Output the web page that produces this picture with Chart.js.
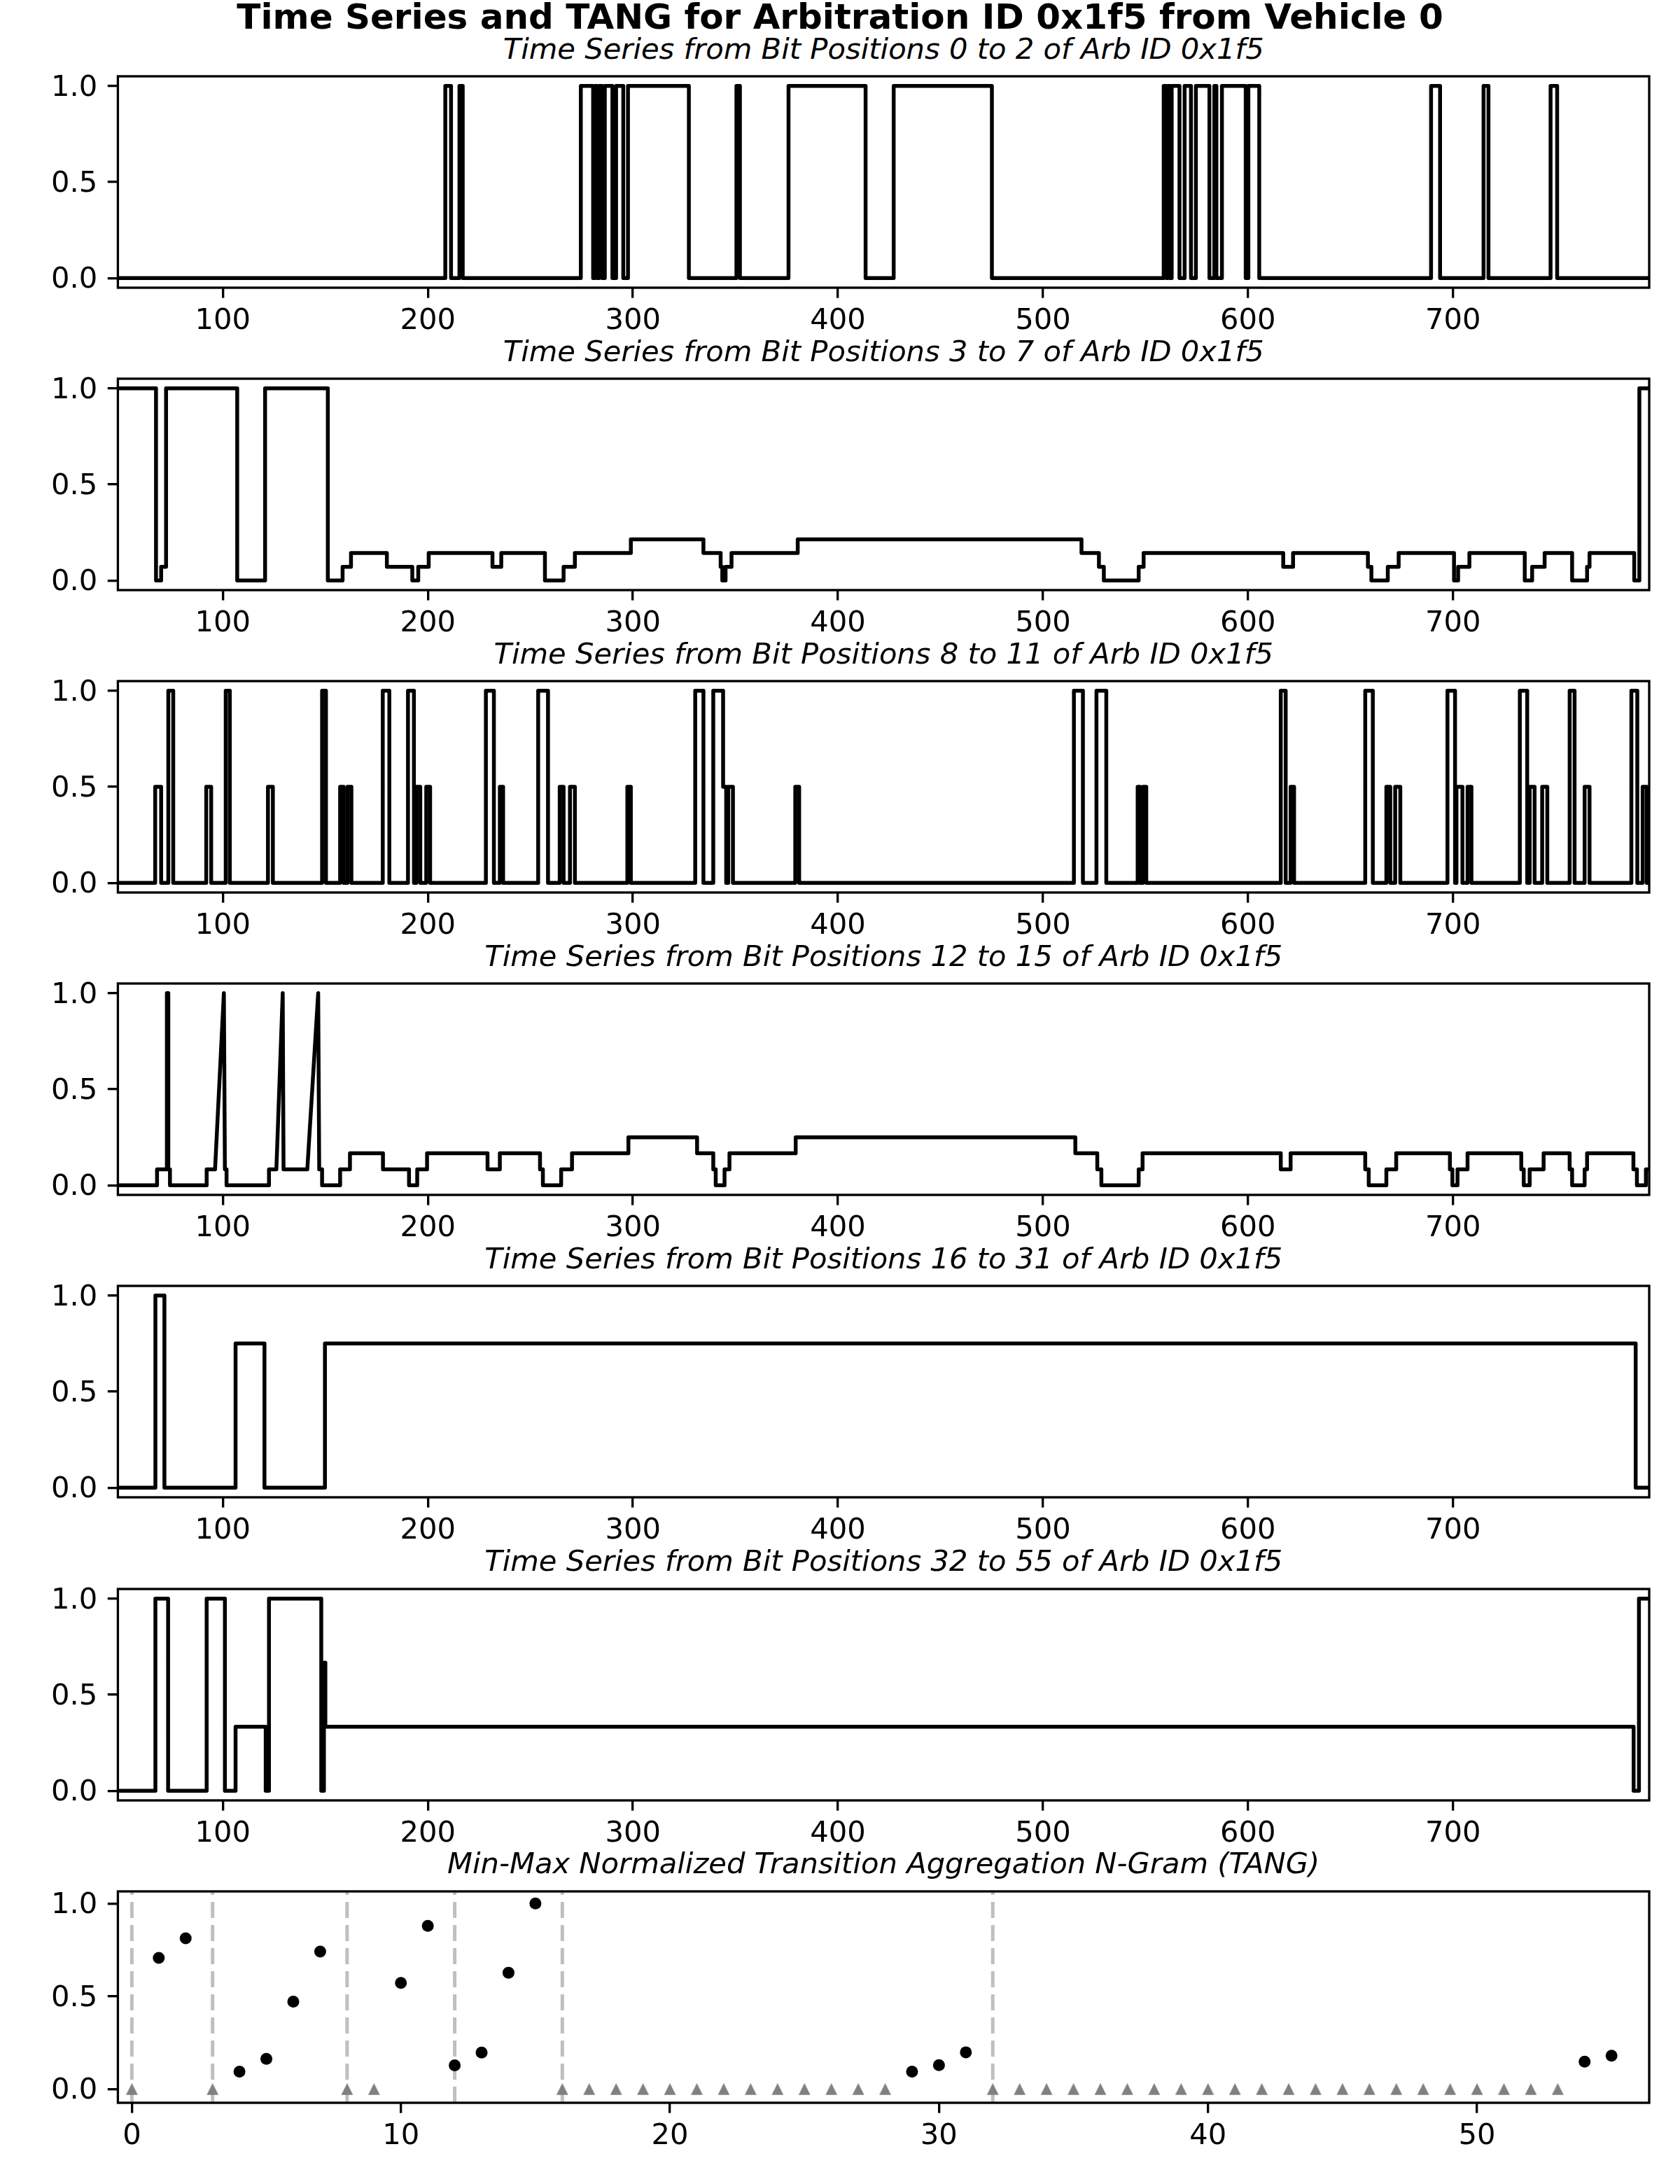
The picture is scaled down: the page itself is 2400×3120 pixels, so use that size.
<!DOCTYPE html>
<html>
<head>
<meta charset="utf-8">
<title>Time Series and TANG for Arbitration ID 0x1f5 from Vehicle 0</title>
<script src="https://cdn.jsdelivr.net/npm/chart.js@4.4.1/dist/chart.umd.min.js"></script>
<style>
  html, body { margin:0; padding:0; background:#ffffff; }
  body { position:relative; width:2400px; height:3120px; overflow:hidden; font-family:'DejaVu Sans', sans-serif; color:#000; }
  .suptitle { position:absolute; left:0; top:-1px; width:2400px; text-align:center; font-weight:bold; font-size:50px; line-height:50px; white-space:nowrap; }
  .axtitle { position:absolute; text-align:center; font-style:italic; font-size:41.67px; line-height:41.67px; white-space:nowrap; }
  .panel { position:absolute; left:0; width:2400px; }
  .panel canvas { display:block; }
</style>
</head>
<body>
<div class="suptitle">Time Series and TANG for Arbitration ID 0x1f5 from Vehicle 0</div>
<script>
// ---------------- DATA ----------------
const timeMin = 48.8, timeMax = 795.7;

// Bits 0-2 : change points (value holds until next point)
const ts0_2_x = [48.8, 208.5, 211.3, 215.4, 217.0, 274.6, 280.6, 281.6, 282.6, 283.6, 285.0, 286.3, 290.0, 291.8, 295.3, 297.6, 327.3, 350.5, 352.2, 375.9, 413.5, 427.2, 475.1, 558.9, 560.2, 561.0, 562.0, 562.8, 566.6, 569.1, 572.2, 574.6, 581.2, 583.6, 584.6, 587.3, 598.9, 600.2, 605.5, 689.3, 693.7, 714.9, 717.3, 747.6, 750.8, 795.7];
const ts0_2_y = [0, 1, 0, 1, 0, 1, 0, 1, 0, 1, 0, 1, 0, 1, 0, 1, 0, 1, 0, 1, 0, 1, 0, 1, 0, 1, 0, 1, 0, 1, 0, 1, 0, 1, 0, 1, 0, 1, 0, 1, 0, 1, 0, 1, 0, 0];

// Bits 3-7
const ts3_7_x = [48.8, 67.4, 69.9, 72.3, 107.0, 120.6, 151.2, 158.4, 162.5, 180.0, 192.4, 195.3, 200.4, 231.5, 235.8, 257.1, 266.2, 271.7, 299.0, 334.4, 342.8, 343.6, 345.2, 348.1, 380.4, 518.8, 527.3, 529.7, 546.7, 549.1, 617.2, 622.0, 658.5, 660.2, 668.2, 673.5, 700.5, 702.5, 708.0, 735.0, 738.6, 744.7, 758.1, 765.4, 766.6, 788.4, 790.9, 795.7];
const ts3_7_y = [1, 0, 0.0714, 1, 0, 1, 0, 0.0714, 0.1429, 0.0714, 0, 0.0714, 0.1429, 0.0714, 0.1429, 0, 0.0714, 0.1429, 0.2143, 0.1429, 0.0714, 0, 0.0714, 0.1429, 0.2143, 0.1429, 0.0714, 0, 0.0714, 0.1429, 0.0714, 0.1429, 0.0714, 0, 0.0714, 0.1429, 0, 0.0714, 0.1429, 0, 0.0714, 0.1429, 0, 0.0714, 0.1429, 0, 1, 1];

// Bits 8-11
const ts8_11_x = [48.8, 67.0, 69.9, 73.4, 75.8, 91.9, 94.3, 101.4, 103.4, 122.0, 124.4, 148.4, 150.3, 157.2, 158.9, 160.8, 162.7, 178.0, 181.2, 190.3, 193.2, 194.4, 196.3, 199.2, 201.1, 228.3, 232.2, 235.1, 236.7, 253.8, 258.6, 264.3, 266.2, 269.3, 271.7, 297.3, 299.0, 330.4, 334.4, 339.2, 344.0, 345.5, 346.5, 348.8, 379.2, 381.1, 515.1, 519.5, 526.1, 530.9, 546.2, 547.4, 548.8, 550.4, 616.0, 618.4, 620.8, 622.5, 657.2, 660.9, 667.5, 669.4, 671.8, 674.3, 697.3, 701.0, 701.7, 704.6, 707.1, 709.0, 732.6, 736.2, 737.4, 739.8, 743.5, 746.0, 756.9, 759.3, 764.2, 766.6, 787.0, 789.9, 792.5, 794.5, 795.7];
const ts8_11_y = [0, 0.5, 0, 1, 0, 0.5, 0, 1, 0, 0.5, 0, 1, 0, 0.5, 0, 0.5, 0, 1, 0, 1, 0, 0.5, 0, 0.5, 0, 1, 0, 0.5, 0, 1, 0, 0.5, 0, 0.5, 0, 0.5, 0, 1, 0, 1, 0.5, 0, 0.5, 0, 0.5, 0, 1, 0, 1, 0, 0.5, 0, 0.5, 0, 1, 0, 0.5, 0, 1, 0, 0.5, 0, 0.5, 0, 1, 0, 0.5, 0, 0.5, 0, 1, 0, 0.5, 0, 0.5, 0, 1, 0, 0.5, 0, 1, 0, 0.5, 0, 0];

// Bits 12-15 : explicit vertices (linear, contains ramps)
const ts12_15_x = [48.8, 67.9, 67.9, 72.7, 72.7, 73.4, 73.4, 74.2, 74.2,
  92.1, 92.1, 96.2, 100.5, 101.0, 101.8, 101.8,
  122.5, 122.5, 126.1, 129.2, 129.6, 141.2, 146.5, 147.0, 148.4, 148.4,
  157.2, 157.2, 162.0, 162.0, 178.1, 178.1, 190.8, 190.8, 194.8, 194.8, 199.6, 199.6, 229.1, 229.1, 235.1, 235.1, 254.7, 254.7, 256.1, 256.1, 265.0, 265.0, 270.3, 270.3, 297.8, 297.8, 331.3, 331.3, 339.2, 339.2, 340.4, 340.4, 344.7, 344.7, 347.1, 347.1, 379.4, 379.4,
  515.8, 515.8, 526.5, 526.5, 528.5, 528.5, 546.7, 546.7, 548.6, 548.6, 616.0, 616.0, 620.8, 620.8, 657.2, 657.2, 658.9, 658.9, 667.5, 667.5, 672.3, 672.3, 698.5, 698.5, 699.7, 699.7, 702.2, 702.2, 707.1, 707.1, 733.3, 733.3, 734.5, 734.5, 737.4, 737.4, 744.2, 744.2, 756.9, 756.9, 758.1, 758.1, 764.2, 764.2, 765.4, 765.4, 788.0, 788.0, 789.7, 789.7, 794.1, 794.1, 795.7];
const ts12_15_y = [0, 0, 0.0833, 0.0833, 1, 1, 0.0833, 0.0833, 0,
  0, 0.0833, 0.0833, 1, 0.0833, 0.0833, 0,
  0, 0.0833, 0.0833, 1, 0.0833, 0.0833, 1, 0.0833, 0.0833, 0,
  0, 0.0833, 0.0833, 0.1667, 0.1667, 0.0833, 0.0833, 0, 0, 0.0833, 0.0833, 0.1667, 0.1667, 0.0833, 0.0833, 0.1667, 0.1667, 0.0833, 0.0833, 0, 0, 0.0833, 0.0833, 0.1667, 0.1667, 0.25, 0.25, 0.1667, 0.1667, 0.0833, 0.0833, 0, 0, 0.0833, 0.0833, 0.1667, 0.1667, 0.25,
  0.25, 0.1667, 0.1667, 0.0833, 0.0833, 0, 0, 0.0833, 0.0833, 0.1667, 0.1667, 0.0833, 0.0833, 0.1667, 0.1667, 0.0833, 0.0833, 0, 0, 0.0833, 0.0833, 0.1667, 0.1667, 0.0833, 0.0833, 0, 0, 0.0833, 0.0833, 0.1667, 0.1667, 0.0833, 0.0833, 0, 0, 0.0833, 0.0833, 0.1667, 0.1667, 0.0833, 0.0833, 0, 0, 0.0833, 0.0833, 0.1667, 0.1667, 0.0833, 0.0833, 0, 0, 0.0833, 0.0833];

// Bits 16-31
const ts16_31_x = [48.8, 67.1, 71.5, 106.2, 120.3, 149.8, 789.1, 795.7];
const ts16_31_y = [0, 1, 0, 0.75, 0, 0.75, 0, 0];

// Bits 32-55
const ts32_55_x = [48.8, 67.1, 73.3, 92.1, 101.0, 106.2, 120.9, 122.5, 148.0, 149.3, 150.0, 788.1, 790.7, 795.7];
const ts32_55_y = [0, 1, 0, 1, 0, 0.3333, 0, 1, 0, 0.6667, 0.3333, 0, 1, 1];

// TANG
const tangIdx = [1, 2, 4, 5, 6, 7, 10, 11, 12, 13, 14, 15, 29, 30, 31, 54, 55];
const tangVal = [0.707, 0.812, 0.094, 0.163, 0.471, 0.741, 0.572, 0.879, 0.128, 0.197, 0.627, 1.0, 0.094, 0.129, 0.198, 0.148, 0.180];
const tangZeroIdx = [0, 3, 8, 9, 16, 17, 18, 19, 20, 21, 22, 23, 24, 25, 26, 27, 28, 32, 33, 34, 35, 36, 37, 38, 39, 40, 41, 42, 43, 44, 45, 46, 47, 48, 49, 50, 51, 52, 53];
const tangBoundaries = [0, 3, 8, 12, 16, 32];
const tangXMin = -0.52, tangXMax = 56.4, tangYMin = -0.074, tangYMax = 1.065;

// Ticks
const timeTicks = [100, 200, 300, 400, 500, 600, 700];
const timeTickLabels = ['100', '200', '300', '400', '500', '600', '700'];
const tangTicks = [0, 10, 20, 30, 40, 50];
const tangTickLabels = ['0', '10', '20', '30', '40', '50'];
const yTicks = [0, 0.5, 1];
const yTickLabels = ['0.0', '0.5', '1.0'];

const panelTitles = [
  'Time Series from Bit Positions 0 to 2 of Arb ID 0x1f5',
  'Time Series from Bit Positions 3 to 7 of Arb ID 0x1f5',
  'Time Series from Bit Positions 8 to 11 of Arb ID 0x1f5',
  'Time Series from Bit Positions 12 to 15 of Arb ID 0x1f5',
  'Time Series from Bit Positions 16 to 31 of Arb ID 0x1f5',
  'Time Series from Bit Positions 32 to 55 of Arb ID 0x1f5',
  'Min-Max Normalized Transition Aggregation N-Gram (TANG)'
];

// ---------------- LAYOUT ----------------
const FIG_W = 2400, AX_LEFT = 168.4, AX_RIGHT = 2356, AX_TOP0 = 109, AX_PITCH = 432.1, AX_H = 302;
const PAD_T = 50, XAX_H = 90;
const FS = 41.67, LW = 5.5, SPINE = 3.33, TICK_LEN = 14.6;

Chart.defaults.font.family = "'DejaVu Sans', sans-serif";
Chart.defaults.font.size = FS;
Chart.defaults.color = '#000';

const framePlugin = {
  id: 'frame',
  afterDatasetsDraw(chart) {
    const { ctx, chartArea: a } = chart;
    ctx.save();
    ctx.lineWidth = SPINE;
    ctx.strokeStyle = '#000';
    ctx.strokeRect(a.left, a.top, a.right - a.left, a.bottom - a.top);
    ctx.restore();
  }
};

function gridOpts() {
  return { drawOnChartArea: false, drawTicks: true, tickLength: TICK_LEN, lineWidth: SPINE, tickWidth: SPINE, color: '#000', tickColor: '#000' };
}
function xScale(min, max, ticks, labels) {
  return {
    type: 'linear', min, max,
    afterBuildTicks: s => { s.ticks = ticks.map(v => ({ value: v })); },
    afterFit: s => { s.height = XAX_H; },
    grid: gridOpts(),
    border: { display: false },
    ticks: { padding: 9, autoSkip: false, maxRotation: 0, color: '#000', font: { size: FS },
             callback: (v, i) => labels[i] }
  };
}
function yScale(min, max) {
  return {
    type: 'linear', min, max,
    afterBuildTicks: s => { s.ticks = yTicks.map(v => ({ value: v })); },
    afterFit: s => { s.width = AX_LEFT; },
    grid: gridOpts(),
    border: { display: false },
    ticks: { padding: TICK_LEN, autoSkip: false, color: '#000', font: { size: FS }, labelOffset: 3,
             callback: (v, i) => yTickLabels[i] }
  };
}

function makePanel(i, datasets, xs, ys) {
  const axTop = AX_TOP0 + AX_PITCH * i;
  const t = document.createElement('div');
  t.className = 'axtitle';
  t.style.left = AX_LEFT + 'px';
  t.style.width = (AX_RIGHT - AX_LEFT) + 'px';
  t.style.top = (axTop - 25 - 0.846 * FS) + 'px';
  t.textContent = panelTitles[i];
  document.body.appendChild(t);

  const wrap = document.createElement('div');
  wrap.className = 'panel';
  const cv = document.createElement('canvas');
  const H = PAD_T + AX_H + XAX_H;
  cv.width = FIG_W; cv.height = H;
  cv.style.width = FIG_W + 'px'; cv.style.height = H + 'px';
  wrap.appendChild(cv);
  document.body.appendChild(wrap);

  const chart = new Chart(cv, {
    type: 'scatter',
    data: { datasets },
    options: {
      responsive: false, animation: false, devicePixelRatio: 1, events: [],
      layout: { padding: { left: 0, top: PAD_T, right: FIG_W - AX_RIGHT, bottom: 0 } },
      plugins: { legend: { display: false }, tooltip: { enabled: false }, title: { display: false } },
      scales: { x: xs, y: ys }
    },
    plugins: [framePlugin]
  });
  // place canvas so that the plot area lands exactly on the axes box
  let a = chart.chartArea;
  const dh = AX_H - (a.bottom - a.top);
  if (Math.abs(dh) > 0.5) {
    cv.height = H + dh; cv.style.height = (H + dh) + 'px';
    chart.resize(FIG_W, H + dh);
    a = chart.chartArea;
  }
  wrap.style.top = (axTop - a.top) + 'px';
  return chart;
}

function series(xArr, yArr, stepped) {
  return {
    data: xArr.map((x, k) => ({ x, y: yArr[k] })),
    showLine: true, stepped: stepped, tension: 0,
    borderColor: '#000', backgroundColor: '#000', borderWidth: LW,
    borderJoinStyle: 'round', borderCapStyle: 'butt',
    pointRadius: 0, pointHoverRadius: 0, clip: 0, fill: false
  };
}

const tsSets = [
  [ts0_2_x, ts0_2_y, true],
  [ts3_7_x, ts3_7_y, true],
  [ts8_11_x, ts8_11_y, true],
  [ts12_15_x, ts12_15_y, false],
  [ts16_31_x, ts16_31_y, true],
  [ts32_55_x, ts32_55_y, true]
];
tsSets.forEach((s, i) => {
  makePanel(i, [series(s[0], s[1], s[2])],
    xScale(timeMin, timeMax, timeTicks, timeTickLabels),
    yScale(-0.05, 1.05));
});

// TANG panel
const tri = document.createElement('canvas');
tri.width = 18; tri.height = 18;
{
  const c = tri.getContext('2d');
  c.fillStyle = '#808080';
  c.beginPath(); c.moveTo(9, 0.5); c.lineTo(0.5, 17.5); c.lineTo(17.5, 17.5); c.closePath(); c.fill();
}
const tangSets = [
  { data: tangIdx.map((x, k) => ({ x, y: tangVal[k] })), pointStyle: 'circle', pointRadius: 8.5,
    backgroundColor: '#000', borderColor: '#000', borderWidth: 0, showLine: false, clip: 0 },
  { data: tangZeroIdx.map(x => ({ x, y: 0 })), pointStyle: tri, pointRadius: 9,
    backgroundColor: '#808080', borderWidth: 0, showLine: false, clip: 0 }
];
tangBoundaries.forEach(b => {
  tangSets.push({
    data: [{ x: b, y: tangYMin }, { x: b, y: tangYMax }],
    showLine: true, borderColor: 'rgba(128,128,128,0.5)', borderWidth: 5, borderDash: [23, 10],
    pointRadius: 0, clip: 0, fill: false
  });
});
makePanel(6, tangSets,
  xScale(tangXMin, tangXMax, tangTicks, tangTickLabels),
  yScale(tangYMin, tangYMax));
</script>
</body>
</html>
